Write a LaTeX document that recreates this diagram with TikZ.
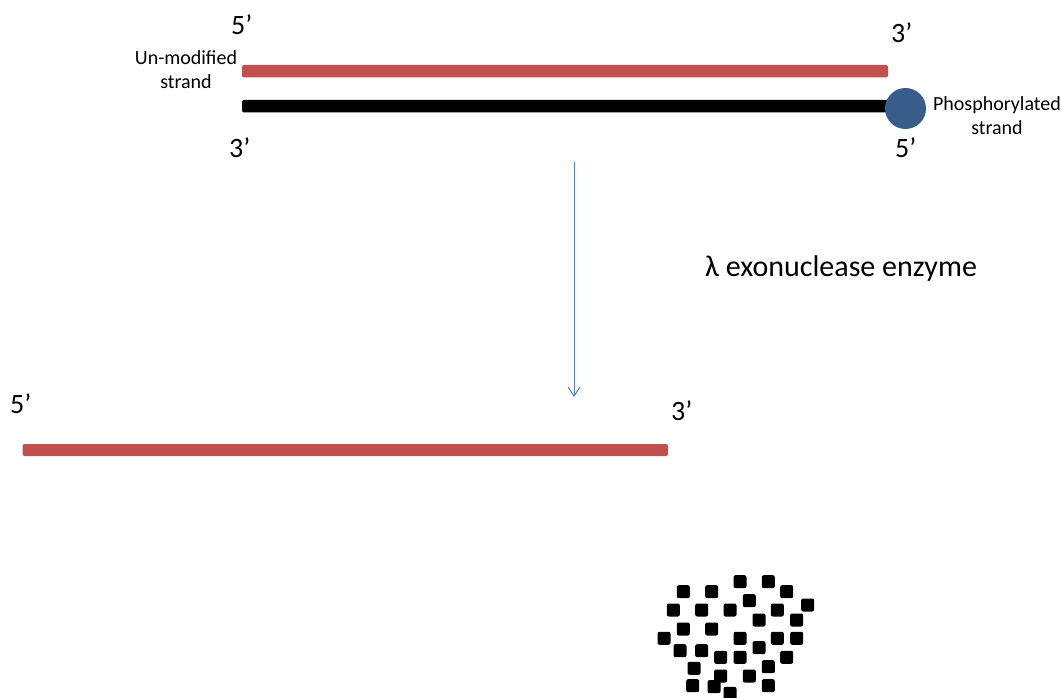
\documentclass[tikz,border=0pt]{standalone}
\usepackage{fontspec}
\setmainfont{Carlito}
\usetikzlibrary{arrows.meta}
\definecolor{strandred}{HTML}{C0504D}
\definecolor{phosblue}{HTML}{385D8A}
\definecolor{arrowblue}{HTML}{4F81BD}
\tikzset{
  prime/.style={anchor=base west, inner sep=0pt, font=\fontsize{28}{32}\selectfont},
  smalllabel/.style={align=center, inner sep=0pt, font=\fontsize{20}{24}\selectfont},
  redbar/.style={fill=strandred, rounded corners=2pt},
  blackbar/.style={fill=black, rounded corners=2pt},
  frag/.style={fill=black, rounded corners=2pt},
}
\begin{document}
\begin{tikzpicture}[x=1pt,y=-1pt]
\useasboundingbox (0,0) rectangle (1061,698);
% top duplex
\fill[redbar] (242,65) rectangle (888,77.5);
\fill[blackbar] (242,100) rectangle (900,112.5);
\node[circle, fill=phosblue, minimum size=41pt, inner sep=0pt] (phos) at (905.5,108.5) {};
% labels
\node[prime] (t5) at (231,35) {5’};
\node[prime] (t3) at (891,43) {3’};
\node[prime] (b3) at (229,158) {3’};
\node[prime] (b5) at (895,158) {5’};
\node[smalllabel] (unmod) at (186,70) {Un-modified\\strand};
\node[smalllabel] (phlab) at (997,115.5) {Phosphorylated\\strand};
% arrow
\coordinate (astart) at (574,162);
\coordinate (aend) at (574,397);
\draw[arrowblue, line width=1pt, -{Straight Barb[length=9pt,width=12pt]}] (astart) -- (aend);
\node[anchor=base west, inner sep=0pt, font=\fontsize{30}{34}\selectfont] (enz) at (705,276.5) {λ exonuclease enzyme};
% bottom strand
\fill[redbar] (22.5,444) rectangle (668,456);
\node[prime] (l5) at (10,413) {5’};
\node[prime] (l3) at (671,420) {3’};
% fragments
\foreach \x/\y in {683.3/591.7, 711.7/591.7, 740/581.7, 768.3/581.7, 786.7/591.7,
  673.3/610, 701.7/610, 730/610, 749.3/600.7, 777.3/610, 807.7/605,
  759/620, 796.7/620, 683.3/629, 711.7/629, 664/638.3, 740/638.3, 777.3/638.3, 796.7/638.3,
  680/650.7, 701.7/650.7, 720.7/657.3, 740/657.3, 759/647.7, 786.7/657.3,
  694/668.3, 720.7/676, 749.3/676, 768.3/666.7, 692.7/685.7, 714/686.7, 730/693.3, 768.3/685.7}
  \fill[frag] (\x-6.5,\y-6.5) rectangle (\x+6.5,\y+6.5);
\end{tikzpicture}
\end{document}
